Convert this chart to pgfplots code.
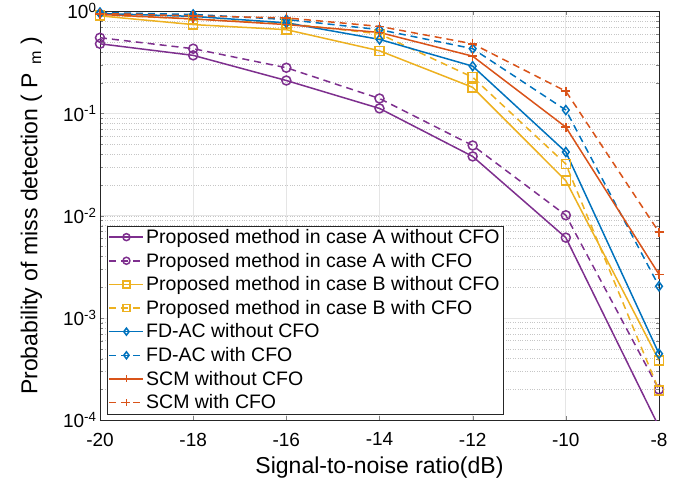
\documentclass[border=0pt]{standalone}
\usepackage{pgfplots}
\pgfplotsset{compat=1.18}
\usepackage{fontspec}
\setmainfont{Liberation Sans}
\definecolor{mpurple}{rgb}{0.494,0.184,0.556}
\definecolor{myellow}{rgb}{0.929,0.694,0.125}
\definecolor{mblue}{rgb}{0,0.447,0.741}
\definecolor{mred}{rgb}{0.850,0.325,0.098}

\begin{document}
\begin{tikzpicture}
\begin{axis}[
  width=559pt, height=409pt, scale only axis,
  ymode=log, xmin=-20, xmax=-8, ymin=1e-4, ymax=1,
  xtick={-20,-18,-16,-14,-12,-10,-8},
  xticklabels={-20,-18,-16,-14,-12,-10,-8},
  ytick={1e-4,1e-3,1e-2,1e-1,1},
  yticklabels={10\textsuperscript{-4},10\textsuperscript{-3},10\textsuperscript{-2},10\textsuperscript{-1},10\textsuperscript{0}},
  tick align=inside,
  ticklabel style={font=\fontsize{19}{21}\selectfont},
  xticklabel style={yshift=-9pt},
  xlabel={Signal-to-noise ratio(dB)},
  ylabel={Probability of miss detection ( P\,\textsubscript{ m} )},
  label style={font=\fontsize{23}{25}\selectfont},
  xlabel shift=4pt, ylabel shift=14pt,
  xmajorgrids, ymajorgrids, yminorgrids,
  major grid style={gray!20, line width=0.7pt},
  minor grid style={gray!45, dotted},
  axis line style={black!85},
  legend style={at={(0.0125,0.015)}, anchor=south west, font=\fontsize{19.5}{22}\selectfont,
    draw=black!85, inner sep=1.5pt, row sep=4pt},
  legend cell align=left,
  legend image code/.code={\draw[line width=1.5pt,mark repeat=2,mark phase=2,mark size=3.5pt] plot coordinates {(0pt,0pt)(17pt,0pt)(34pt,0pt)};},
  every axis plot/.append style={line width=1.5pt, mark size=4.5pt},
]
\addplot[mpurple, mark=o] coordinates {(-20,0.48)(-18,0.37)(-16,0.21)(-14,0.112)(-12,0.038)(-10,0.0061)(-8,0.000086)};
\addplot[mpurple, dash pattern=on 7pt off 5pt, mark=o, mark options={solid}] coordinates {(-20,0.55)(-18,0.43)(-16,0.28)(-14,0.14)(-12,0.0486)(-10,0.0101)(-8,0.0002)};
\addplot[myellow, mark=square] coordinates {(-20,0.9)(-18,0.74)(-16,0.66)(-14,0.41)(-12,0.18)(-10,0.022)(-8,0.000385)};
\addplot[myellow, dash pattern=on 7pt off 5pt, mark=square, mark options={solid}] coordinates {(-20,0.92)(-18,0.84)(-16,0.76)(-14,0.6)(-12,0.226)(-10,0.032)(-8,0.000196)};
\addplot[mblue, mark=diamond] coordinates {(-20,0.95)(-18,0.89)(-16,0.77)(-14,0.53)(-12,0.29)(-10,0.042)(-8,0.000447)};
\addplot[mblue, dash pattern=on 7pt off 5pt, mark=diamond, mark options={solid}] coordinates {(-20,0.97)(-18,0.93)(-16,0.83)(-14,0.66)(-12,0.43)(-10,0.108)(-8,0.00204)};
\addplot[mred, mark=+] coordinates {(-20,0.93)(-18,0.84)(-16,0.74)(-14,0.62)(-12,0.363)(-10,0.0735)(-8,0.00267)};
\addplot[mred, dash pattern=on 7pt off 5pt, mark=+, mark options={solid}] coordinates {(-20,0.95)(-18,0.9)(-16,0.86)(-14,0.71)(-12,0.48)(-10,0.165)(-8,0.0069)};
\legend{Proposed method in case A without CFO,Proposed method in case A with CFO,Proposed method in case B without CFO,Proposed method in case B with CFO,FD-AC without CFO,FD-AC with CFO,SCM without CFO,SCM with CFO}
\end{axis}
\path ([xshift=-100pt,yshift=-68pt]current axis.south west) rectangle ([xshift=24pt,yshift=10pt]current axis.north east);
\end{tikzpicture}
\end{document}
